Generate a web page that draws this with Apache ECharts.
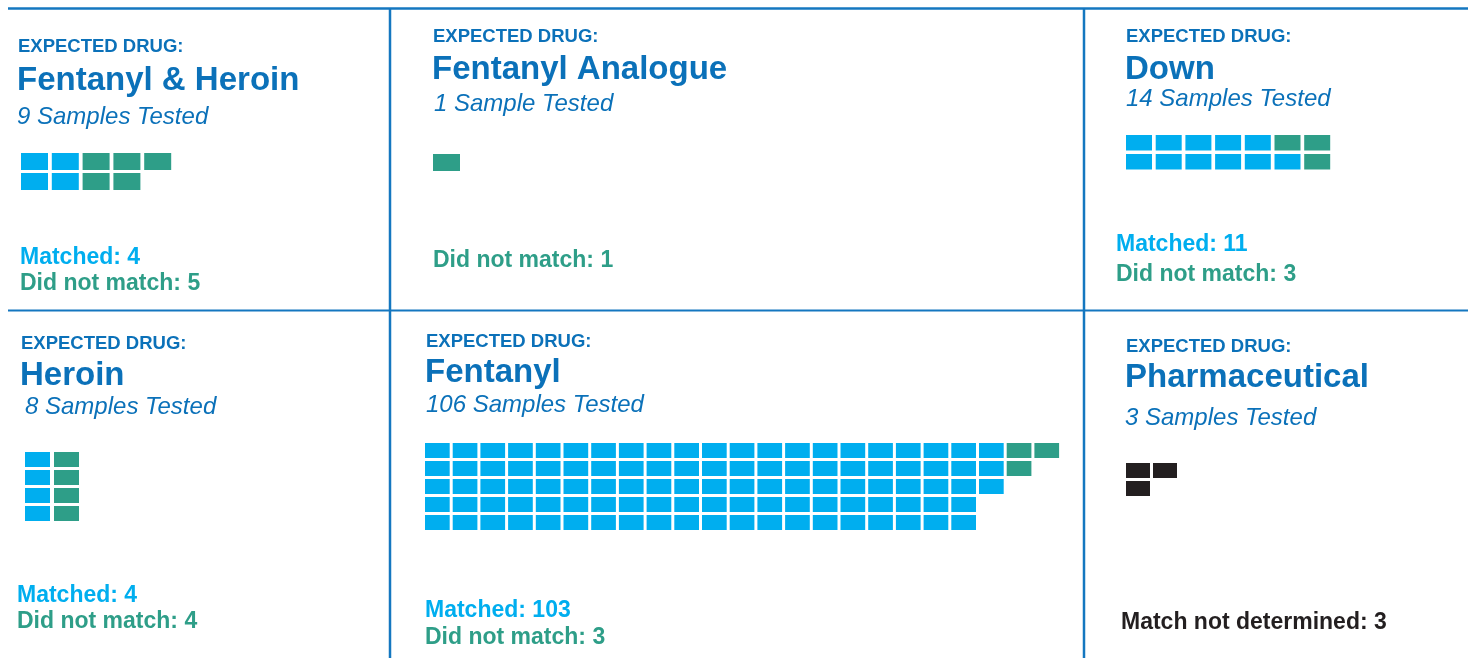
<!DOCTYPE html>
<html>
<head>
<meta charset="utf-8">
<script src="https://cdn.jsdelivr.net/npm/echarts@6/dist/echarts.min.js"></script>
<style>
html,body{margin:0;padding:0;background:#fff;}
#chart{width:1468px;height:658px;}
</style>
</head>
<body>
<div id="chart"></div>
<script>
// ---------- DATA ----------
const drugs = ['Fentanyl & Heroin', 'Fentanyl Analogue', 'Down', 'Heroin', 'Fentanyl', 'Pharmaceutical'];
const matched = [4, 0, 11, 4, 103, 0];
const notMatched = [5, 1, 3, 4, 3, 0];
const undetermined = [0, 0, 0, 0, 0, 3];
// waffle layout of each panel, row by row: M = matched, N = did not match, U = not determined
const waffleFentHeroin = ['MMNNN', 'MMNN'];
const waffleAnalogue = ['N'];
const waffleDown = ['MMMMMNN', 'MMMMMMN'];
const waffleHeroin = ['MN', 'MN', 'MN', 'MN'];
const waffleFentanyl = [
  'MMMMMMMMMM' + 'MMMMMMMMMM' + 'M' + 'NN',
  'MMMMMMMMMM' + 'MMMMMMMMMM' + 'M' + 'N',
  'MMMMMMMMMM' + 'MMMMMMMMMM' + 'M',
  'MMMMMMMMMM' + 'MMMMMMMMMM',
  'MMMMMMMMMM' + 'MMMMMMMMMM'
];
const wafflePharma = ['UU', 'U'];
const waffles = [waffleFentHeroin, waffleAnalogue, waffleDown, waffleHeroin, waffleFentanyl, wafflePharma];
const statusCodes = ['M', 'N', 'U'];
const statusLabels = ['Matched: ', 'Did not match: ', 'Match not determined: '];

// ---------- STYLE / LAYOUT ----------
const statusColors = ['#00aeef', '#2e9e88', '#231f20'];
const headColor = '#0b71b9';
const lineColor = '#1477c0';
const FONT = "'Liberation Sans', Arial, sans-serif";
// per panel: waffle origin & pitch & gaps, text x and baselines
const layout = [
  {gx: 21,   gy: 153, px: 30.8, py: 20, gapX: 3.8, gapY: 3,   tx: 18,   bl: 52,  tt: 91,  st: 125, sx: 17,   lx: 20,   lb: 265, ls: 26},
  {gx: 433,  gy: 154, px: 30.8, py: 20, gapX: 3.8, gapY: 3,   tx: 433,  bl: 42,  tt: 80,  st: 112, sx: 434,  lx: 433,  lb: 268, ls: 26},
  {gx: 1126, gy: 135, px: 29.7, py: 19, gapX: 3.7, gapY: 3.5, tx: 1126, bl: 42,  tt: 80,  st: 107, sx: 1126, lx: 1116, lb: 252, ls: 30},
  {gx: 25,   gy: 452, px: 29,   py: 18, gapX: 4,   gapY: 3,   tx: 21,   bl: 349, tt: 386, st: 415, sx: 25,   lx: 17,   lb: 603, ls: 26},
  {gx: 425,  gy: 443, px: 27.7, py: 18, gapX: 3,   gapY: 3,   tx: 426,  bl: 347, tt: 383, st: 413, sx: 426,  lx: 425,  lb: 618, ls: 27},
  {gx: 1126, gy: 463, px: 27,   py: 18, gapX: 3,   gapY: 3,   tx: 1126, bl: 352, tt: 388, st: 426, sx: 1125, lx: 1121, lb: 630, ls: 26}
];

const grids = [], xAxes = [], yAxes = [], series = [], graphics = [];

function txt(x, baseline, text, size, weight, style, color) {
  graphics.push({
    type: 'text', x: x, y: baseline - 0.30 * size, silent: true,
    style: {
      text: text, fill: color, verticalAlign: 'middle', align: 'left',
      font: style + ' ' + weight + ' ' + size + 'px ' + FONT
    }
  });
}

drugs.forEach(function (name, i) {
  const L = layout[i];
  const rows = waffles[i];
  const ncols = Math.max.apply(null, rows.map(function (r) { return r.length; }));
  const nrows = rows.length;
  grids.push({left: L.gx, top: L.gy, width: ncols * L.px, height: nrows * L.py, containLabel: false});
  xAxes.push({type: 'value', gridIndex: i, min: 0, max: ncols, show: false});
  yAxes.push({type: 'value', gridIndex: i, min: 0, max: nrows, inverse: true, show: false});
  const data = [];
  rows.forEach(function (rowStr, r) {
    for (let c = 0; c < rowStr.length; c++) {
      data.push([c, r, statusCodes.indexOf(rowStr[c])]);
    }
  });
  series.push({
    type: 'custom', name: name, xAxisIndex: i, yAxisIndex: i, data: data,
    encode: {x: 0, y: 1}, silent: true, animation: false,
    renderItem: function (params, api) {
      const p = api.coord([api.value(0), api.value(1)]);
      const s = api.size([1, 1]);
      return {
        type: 'rect',
        shape: {x: p[0], y: p[1], width: s[0] - L.gapX, height: s[1] - L.gapY},
        style: {fill: statusColors[api.value(2)]}
      };
    }
  });

  const total = matched[i] + notMatched[i] + undetermined[i];
  txt(L.tx, L.bl, 'EXPECTED DRUG:', 18.5, 'bold', 'normal', headColor);
  txt(L.tx - 1, L.tt, name, 33, 'bold', 'normal', headColor);
  txt(L.sx, L.st, total + (total === 1 ? ' Sample Tested' : ' Samples Tested'), 24, 'normal', 'italic', headColor);
  const counts = [matched[i], notMatched[i], undetermined[i]];
  let k = 0;
  counts.forEach(function (v, s) {
    if (v > 0) {
      txt(L.lx, L.lb + k * L.ls, statusLabels[s] + v, 23, 'bold', 'normal', statusColors[s]);
      k++;
    }
  });
});

// panel frame lines
function line(x1, y1, x2, y2, w) {
  graphics.push({type: 'line', silent: true, shape: {x1: x1, y1: y1, x2: x2, y2: y2},
    style: {stroke: lineColor, lineWidth: w}});
}
line(8, 8.5, 1468, 8.5, 2.5);
line(8, 310.5, 1468, 310.5, 2);
line(390, 8, 390, 658, 2.5);
line(1084, 8, 1084, 658, 2.5);

const chart = echarts.init(document.getElementById('chart'), null, {renderer: 'canvas'});
chart.setOption({
  animation: false,
  backgroundColor: '#ffffff',
  grid: grids,
  xAxis: xAxes,
  yAxis: yAxes,
  series: series,
  graphic: graphics
});
</script>
</body>
</html>
